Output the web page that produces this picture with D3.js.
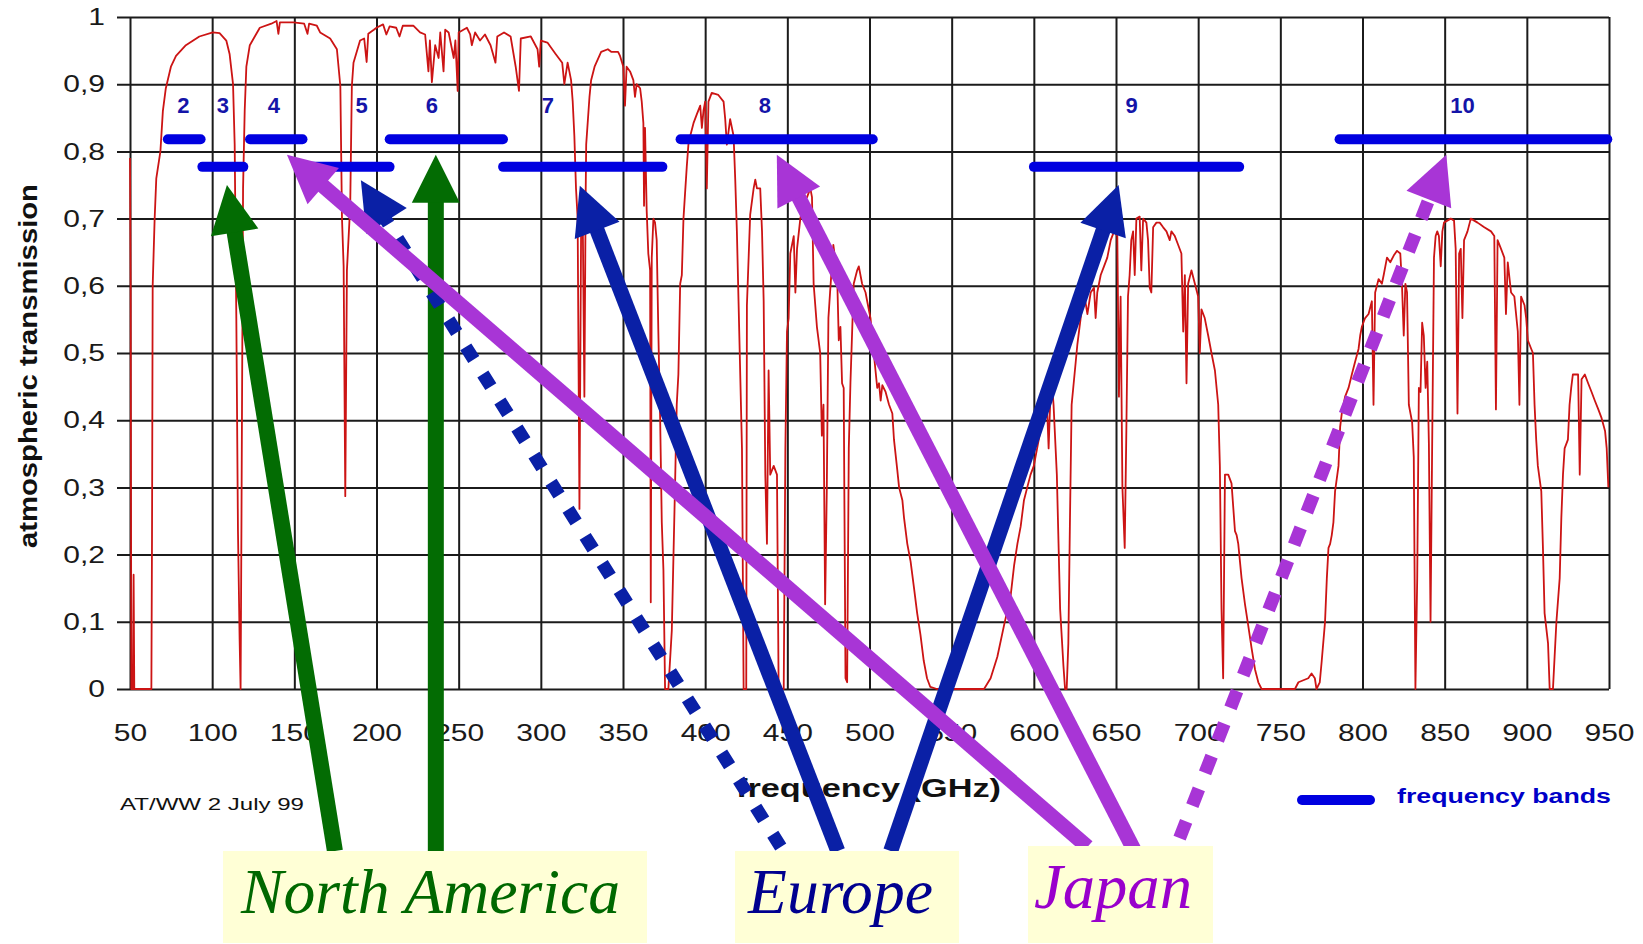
<!DOCTYPE html>
<html>
<head>
<meta charset="utf-8">
<script src="https://cdn.jsdelivr.net/npm/d3@7"></script>
<style>
  body { margin: 0; background: #fff; }
  svg { display: block; }
</style>
</head>
<body>
<div id="chart"></div>
<script>
// ---- data ----
// atmospheric transmission curve (frequency in GHz, transmission 0..1)
const freq = [
  50, 50.4, 50.8, 51.8, 52.2, 52.6, 63, 63.4, 63.8, 65, 66, 68.5, 70, 71.8, 74.9, 78, 84, 92.2, 100.4, 104.5,
  108.6, 110.6, 112.7, 113.7, 114.7, 115.7, 116.7, 117.3, 117.8, 118.8, 119.8, 120.8, 122.9, 129, 136, 139.2,
  140.3, 141.2, 149.4, 156, 158, 159, 163.7, 165.7, 171.8, 175.9, 178, 179, 180, 181, 182, 184, 185, 186, 190,
  192.5, 194, 195, 198.4,
  200, 204, 206, 208, 212, 214, 216, 222.4, 226.5, 229.6, 231.6, 232.5, 233.7, 235.7, 237.8, 238.8, 240.8,
  241.8, 243.9, 247, 248, 249.4, 250, 255, 257, 258, 260, 263, 266, 269.4, 272.4, 273.5, 277.6, 281.6, 284.7,
  286.7, 287.8, 293.9, 298, 299, 300, 304, 309, 313, 314.3, 316.3, 318.4, 319.4, 320.4, 321.4, 322.4, 323.5,
  324.5, 325.5, 326.5, 327.3, 327.6, 329.6, 330.6, 332.7, 336.7, 340.8, 343, 347,
  348.2, 350.2, 351.2, 352.2, 354.3, 356.3, 357.3, 358.3, 360.4, 361.4, 362.4, 362.8, 363.4, 364.4, 365.4,
  366.5, 366.9, 367.5, 368.5, 369.5, 370.5, 371.5, 372.6, 373.6, 374.6, 375.6, 377.6, 379.7, 380.7, 381.7,
  382.7, 383.7, 384.8, 385.8, 386.8, 387.8, 388.8, 389.8, 390.9, 392.9, 394.9, 397, 398, 399, 400, 401, 402,
  404, 408, 411.2, 412.2, 413.2, 415.2, 417.3, 418.3, 419.3, 420.3, 422.4, 423.4, 425, 425.4, 427.4, 429.5,
  430.5, 431.5, 433.5, 434.6, 435.6, 436.6, 437.6, 438.6, 439.6, 441.7, 443.7, 444.7, 447.8, 448.8, 449.8,
  450.8, 451.8, 453.9, 454.9, 455.9, 457.9, 460, 462, 464, 465, 466, 468, 470, 471, 472, 473, 474, 475, 476,
  478, 480.3, 481.3, 482.3, 483.3, 484.3, 485.4, 486.4, 487.4, 488.4, 490.4, 492.5, 493.5, 495.5, 497.6,
  498.6, 500.6, 502.6, 504.7,
  505.8, 506.8, 507.8, 509.8, 511.9, 513.9, 514.9, 516.9, 518, 520, 521, 523, 525, 527, 529, 531, 533, 535,
  537, 541, 569.7, 573.7, 577.8, 581.8, 585.9, 588, 590, 592, 594, 596, 598, 600, 602, 604, 606, 608, 609,
  610, 611, 612, 614, 616, 618, 619, 620, 621, 622, 623, 625.5, 626.5, 628.5, 630.5, 632.6, 634.6, 636.6,
  637.6, 638.6, 640.7, 642.7, 644.7, 646.8, 648.8, 650.8, 651.8, 652.8, 653.9,
  655.3, 656.3, 657.3, 658.3, 659.3, 660.4, 661.4, 662.4, 664.4, 665.4, 666.5, 668.5, 669.5, 670.5, 671.5,
  672.6, 674.6, 676.6, 678.7, 680.7, 682.7, 683.7, 685.8, 687.8, 689.8, 690.9, 691.9, 692.9, 693.9, 695.9,
  698, 700, 701, 702, 704, 706.1, 708.1, 710.2, 712.2, 713.2, 714.2, 715.2, 716.3, 718.3, 720.3, 722.4, 723.4,
  724.4, 726.4, 728.5, 730.5, 732.5, 734.6, 736.6, 738.6, 758.9, 761, 767, 769, 771, 772, 774, 775.2, 777.2,
  778.3, 779.3, 780.3, 781.3, 782.3, 783.3, 785.4, 786.4, 787.4, 789.4, 791.5, 793.5, 795.5, 797.6, 798.6,
  799.6, 801.6, 803.7, 805.7, 806.7, 807.7, 809.8, 811.8,
  812.9, 814.9, 816.9, 819, 821, 823, 824, 825.1, 826.1, 827.1, 828.2, 829.2, 830.2, 831.2, 832.2, 833.3,
  834.3, 835.3, 836.3, 837.3, 838.4, 839.4, 840.4, 841.4, 842.4, 843.5, 844.5, 845.5, 846.5, 847.6, 848.6,
  849.6, 851.6, 853.7, 855.7, 856.7, 857.8, 858.8, 859.8, 860.8, 861.8, 863.9, 865.9, 868, 870, 874.1, 878.2,
  880.2, 881.2, 882.2, 884.3, 886.3, 887.3, 888.4, 890.4, 892.4, 894.5, 895.5, 896.5, 898.6, 899.6, 900.6,
  902.7, 903.7, 904.7, 905.7, 906.7, 908.8, 909.8, 910.8, 912.9, 913.9, 915.9, 916.9, 918, 920, 921, 922, 923,
  925, 926, 927, 928, 930.2, 931.2, 932.2, 933.3, 935.3, 937.3, 939.4, 941.4, 943.5, 945.5, 947.6, 948.6, 949.6
];
const trans = [
  0.79, 0.60, 0, 0, 0.17, 0, 0, 0.23, 0.60, 0.70, 0.76, 0.80, 0.86, 0.894, 0.926, 0.942, 0.958, 0.971, 0.977, 0.976,
  0.965, 0.945, 0.90, 0.81, 0.552, 0.235, 0.074, 0, 0.235, 0.745, 0.861, 0.926, 0.958, 0.984, 0.99, 0.994,
  0.975, 0.992, 0.992, 0.99, 0.975, 0.99, 0.987, 0.977, 0.968, 0.952, 0.897, 0.70, 0.629, 0.287, 0.623, 0.719, 0.897, 0.932, 0.965,
  0.968, 0.933, 0.975, 0.981,
  0.984, 0.989, 0.974, 0.986, 0.984, 0.971, 0.987, 0.987, 0.977, 0.974, 0.919, 0.965, 0.903, 0.958, 0.939, 0.977, 0.919,
  0.981, 0.977, 0.939, 0.965, 0.89, 0.977, 0.984, 0.974, 0.958, 0.977, 0.965, 0.974, 0.958, 0.932, 0.971, 0.977, 0.971, 0.926,
  0.89, 0.968, 0.971, 0.952, 0.926, 0.965, 0.962, 0.945, 0.932, 0.90, 0.932, 0.906, 0.874, 0.823, 0.745, 0.70, 0.268,
  0.68, 0.70, 0.435, 0.74, 0.81, 0.881, 0.906, 0.926, 0.948, 0.952, 0.948, 0.948,
  0.942, 0.926, 0.868, 0.926, 0.919, 0.906, 0.881, 0.90, 0.894, 0.874, 0.842, 0.719, 0.835, 0.713, 0.648,
  0.623, 0.129, 0.642, 0.70, 0.694, 0.668, 0.532, 0.403, 0.248, 0.177, 0, 0, 0.087, 0.197, 0.306,
  0.423, 0.468, 0.603, 0.616, 0.70, 0.739, 0.777, 0.81, 0.823, 0.842, 0.855, 0.868, 0.835, 0.861, 0.874, 0.745, 0.874,
  0.887, 0.884, 0.874, 0.848, 0.81, 0.848, 0.823, 0.758, 0.681, 0.577, 0.358, 0, 0, 0.571, 0.706, 0.745,
  0.758, 0.745, 0.745, 0.681, 0.577, 0.319, 0.216, 0.474, 0.319, 0.332, 0.319, 0, 0, 0.358, 0.532,
  0.552, 0.648, 0.674, 0.59, 0.655, 0.70, 0.726, 0.732, 0.745, 0.732, 0.603, 0.539, 0.50, 0.377, 0.423, 0.126, 0.294, 0.552, 0.59,
  0.661, 0.616, 0.519, 0.539, 0.455, 0.448, 0.016, 0.01, 0.358, 0.455, 0.603, 0.623, 0.629, 0.603, 0.59,
  0.577, 0.552, 0.50, 0.448,
  0.455, 0.429, 0.452, 0.442, 0.423, 0.41, 0.371, 0.326, 0.30, 0.281, 0.255, 0.216, 0.19, 0.152, 0.113, 0.081, 0.042, 0.016,
  0.003, 0, 0, 0.016, 0.048, 0.094, 0.139, 0.184, 0.216, 0.242, 0.281, 0.30, 0.319, 0.332, 0.358, 0.384, 0.41, 0.423, 0.358,
  0.429, 0.455, 0.423, 0.319, 0.119, 0.035, 0, 0, 0.068, 0.255, 0.423, 0.487, 0.513, 0.552, 0.59, 0.558, 0.59, 0.597,
  0.552, 0.59, 0.616, 0.629, 0.642, 0.668, 0.681, 0.674, 0.435, 0.584, 0.30,
  0.21, 0.384, 0.584, 0.616, 0.668, 0.681, 0.616, 0.70, 0.703, 0.623, 0.70, 0.694, 0.668, 0.597, 0.59,
  0.687, 0.694, 0.694, 0.687, 0.681, 0.668, 0.681, 0.674, 0.661, 0.648, 0.532, 0.616, 0.455, 0.603, 0.623,
  0.603, 0.584, 0.50, 0.565, 0.552, 0.526, 0.50, 0.474, 0.423, 0.332, 0.119, 0.016, 0.319, 0.319, 0.306, 0.235, 0.229,
  0.216, 0.165, 0.126, 0.094, 0.061, 0.029, 0.01, 0, 0, 0.01, 0.016, 0.023, 0.016, 0, 0.01, 0.042, 0.10,
  0.165, 0.21, 0.216, 0.229, 0.248, 0.294, 0.332, 0.39, 0.41, 0.435, 0.448, 0.468, 0.487, 0.506, 0.526,
  0.539, 0.552, 0.558, 0.577, 0.423, 0.59, 0.61, 0.603,
  0.616, 0.642, 0.635, 0.645, 0.652, 0.648, 0.603, 0.526, 0.603, 0.59, 0.423, 0.41, 0.397, 0.345, 0, 0.165,
  0.448, 0.442, 0.545, 0.526, 0.448, 0.487, 0.365, 0.10, 0.365, 0.642, 0.674, 0.681, 0.674, 0.629, 0.681,
  0.694, 0.697, 0.70, 0.697, 0.655, 0.41, 0.648, 0.655, 0.552, 0.668, 0.681, 0.70, 0.697, 0.694, 0.687, 0.681,
  0.674, 0.416, 0.668, 0.655, 0.642, 0.558, 0.635, 0.59, 0.584, 0.532, 0.423, 0.584, 0.571, 0.552, 0.519,
  0.506, 0.50, 0.423, 0.371, 0.332, 0.294, 0.21, 0.113, 0.068, 0, 0, 0.048, 0.10, 0.165, 0.255, 0.319, 0.358,
  0.371, 0.423, 0.448, 0.468, 0.468, 0.468, 0.319, 0.461, 0.468, 0.455, 0.442, 0.429, 0.416, 0.403, 0.384, 0.358, 0.30
];

// axis ticks
const xTicks = [50, 100, 150, 200, 250, 300, 350, 400, 450, 500, 550, 600, 650, 700, 750, 800, 850, 900, 950];
const yTicks = [0, 0.1, 0.2, 0.3, 0.4, 0.5, 0.6, 0.7, 0.8, 0.9, 1];
const yTickLabels = ["0", "0,1", "0,2", "0,3", "0,4", "0,5", "0,6", "0,7", "0,8", "0,9", "1"];

// frequency bands
const bandNames = ["2", "3", "4", "5", "6", "7", "8", "9", "10"];
const bandStart = [70, 91, 120, 156, 205, 274, 382, 597, 783];
const bandEnd = [96, 122, 158, 211, 280, 377, 505, 728, 952];
const bandLevel = [0.818, 0.777, 0.818, 0.777, 0.818, 0.777, 0.818, 0.777, 0.818];
const bandLabelFreq = [82.5, 106.5, 137.5, 191, 233.7, 304.3, 436.3, 659.5, 860.8];
const bandLabelLevel = 0.868;

// regions and the bands they point to
const regionNames = ["North America", "Europe", "Japan"];
const arrowRegion = ["North America", "North America", "Europe", "Europe", "Europe", "Japan", "Japan", "Japan"];
const arrowBand = ["3", "6", "5", "7", "9", "4", "8", "10"];
const arrowTipFreq = [109, 236.1, 190.5, 323.7, 651.6, 145.5, 443.6, 851];
const arrowTipTrans = [0.75, 0.795, 0.757, 0.749, 0.75, 0.795, 0.795, 0.795];
const arrowTailFreq = [174.7, 236.1, 446, 480.7, 512.9, 632.7, 661.3, 688.7];
const arrowTailTrans = [-0.241, -0.241, -0.235, -0.241, -0.241, -0.235, -0.241, -0.222];
const arrowDotted = [false, false, true, false, false, false, false, true];

// ---- layout ----
const width = 1643, height = 944;
const plot = { left: 130, right: 1609, top: 17, bottom: 689 };

const regionColor = { "North America": "#036c03", "Europe": "#0a20a6", "Japan": "#a835d6" };
const regionTextColor = { "North America": "#006800", "Europe": "#00008f", "Japan": "#9900cc" };
const regionBox = {
  "North America": { x: 223, y: 851, w: 424, h: 92, tx: 241, ty: 913, tw: 379 },
  "Europe": { x: 735, y: 851, w: 224, h: 92, tx: 748, ty: 913, tw: 185 },
  "Japan": { x: 1028, y: 846, w: 185, h: 97, tx: 1034, ty: 908, tw: 158 }
};

const svg = d3.select("#chart")
  .append("svg")
  .attr("width", width)
  .attr("height", height);

svg.append("rect").attr("width", width).attr("height", height).attr("fill", "#fff");

const x = d3.scaleLinear().domain([50, 950]).range([plot.left, plot.right]);
const y = d3.scaleLinear().domain([0, 1]).range([plot.bottom, plot.top]);

const sans = "'Liberation Sans', Arial, Helvetica, sans-serif";

// horizontal grid + y labels
const yAxis = svg.append("g")
  .attr("transform", `translate(${plot.left - 13},0)`)
  .call(d3.axisLeft(y)
    .tickValues(yTicks)
    .tickFormat((d, i) => yTickLabels[i])
    .tickSize(-(plot.right - plot.left + 13))
    .tickPadding(0))
  .attr("font-size", 24)
  .attr("font-family", sans);
yAxis.select(".domain").remove();
yAxis.selectAll("line").attr("stroke", "#1b1b1b").attr("stroke-width", 2);
yAxis.selectAll("text")
  .attr("x", 0)
  .attr("fill", "#1a1a1a")
  .attr("transform", "translate(-12,0) scale(1.25,1)");

// vertical grid + x labels
const xAxis = svg.append("g")
  .attr("transform", `translate(0,${plot.bottom})`)
  .call(d3.axisBottom(x)
    .tickValues(xTicks)
    .tickFormat(d3.format("d"))
    .tickSize(-(plot.bottom - plot.top))
    .tickPadding(35))
  .attr("font-size", 24)
  .attr("font-family", sans);
xAxis.select(".domain").remove();
xAxis.selectAll("line").attr("stroke", "#1b1b1b").attr("stroke-width", 2);
xAxis.selectAll("text")
  .attr("fill", "#1a1a1a")
  .attr("transform", "scale(1.25,1)");

// transmission curve
const curve = freq.map((f, i) => [f, trans[i]]);
svg.append("path")
  .datum(curve)
  .attr("fill", "none")
  .attr("stroke", "#cc1414")
  .attr("stroke-width", 1.8)
  .attr("stroke-linejoin", "round")
  .attr("d", d3.line().x(d => x(d[0])).y(d => y(d[1])));

// frequency bands
const bands = bandNames.map((name, i) => ({
  name, start: bandStart[i], end: bandEnd[i], level: bandLevel[i], labelFreq: bandLabelFreq[i]
}));

svg.append("g").selectAll("line")
  .data(bands)
  .enter()
  .append("line")
  .attr("x1", d => x(d.start) + 5)
  .attr("x2", d => x(d.end) - 5)
  .attr("y1", d => y(d.level))
  .attr("y2", d => y(d.level))
  .attr("stroke", "#0000e0")
  .attr("stroke-width", 10)
  .attr("stroke-linecap", "round");

svg.append("g").selectAll("text")
  .data(bands)
  .enter()
  .append("text")
  .attr("x", d => x(d.labelFreq))
  .attr("y", y(bandLabelLevel))
  .attr("dy", "0.35em")
  .attr("text-anchor", "middle")
  .attr("font-family", sans)
  .attr("font-weight", "bold")
  .attr("font-size", 22)
  .attr("fill", "#1414a8")
  .text(d => d.name);

// axis titles and footnotes
svg.append("text")
  .attr("transform", "translate(37,366) rotate(-90)")
  .attr("text-anchor", "middle")
  .attr("font-family", sans)
  .attr("font-weight", "bold")
  .attr("font-size", 25)
  .attr("fill", "#111")
  .attr("textLength", 364)
  .attr("lengthAdjust", "spacingAndGlyphs")
  .text("atmospheric transmission");

svg.append("text")
  .attr("x", 736)
  .attr("y", 797)
  .attr("font-family", sans)
  .attr("font-weight", "bold")
  .attr("font-size", 26)
  .attr("fill", "#111")
  .attr("textLength", 265)
  .attr("lengthAdjust", "spacingAndGlyphs")
  .text("frequency (GHz)");

svg.append("text")
  .attr("x", 120)
  .attr("y", 810)
  .attr("font-family", sans)
  .attr("font-size", 17)
  .attr("fill", "#111")
  .attr("textLength", 184)
  .attr("lengthAdjust", "spacingAndGlyphs")
  .text("AT/WW 2 July 99");

// legend
svg.append("line")
  .attr("x1", 1302).attr("x2", 1370)
  .attr("y1", 800).attr("y2", 800)
  .attr("stroke", "#0000e0")
  .attr("stroke-width", 10)
  .attr("stroke-linecap", "round");
svg.append("text")
  .attr("x", 1397)
  .attr("y", 803)
  .attr("font-family", sans)
  .attr("font-weight", "bold")
  .attr("font-size", 21)
  .attr("fill", "#0000c8")
  .attr("textLength", 214)
  .attr("lengthAdjust", "spacingAndGlyphs")
  .text("frequency bands");

// arrows from the regions to the bands
const arrows = arrowRegion.map((r, i) => ({
  region: r, band: arrowBand[i],
  x1: x(arrowTailFreq[i]), y1: y(arrowTailTrans[i]),
  x2: x(arrowTipFreq[i]), y2: y(arrowTipTrans[i]),
  dotted: arrowDotted[i]
}));

const arrowLayer = svg.append("g");
arrows.forEach(a => {
  const color = regionColor[a.region];
  const dx = a.x2 - a.x1, dy = a.y2 - a.y1;
  const len = Math.hypot(dx, dy);
  const ux = dx / len, uy = dy / len;
  const headLen = 48, headHalf = 24;
  const bx = a.x2 - ux * headLen, by = a.y2 - uy * headLen;

  const shaft = arrowLayer.append("line")
    .attr("x1", a.x1).attr("y1", a.y1)
    .attr("x2", bx + ux * 2).attr("y2", by + uy * 2)
    .attr("stroke", color)
    .attr("stroke-width", a.region === "North America" ? 16 : 15);
  if (a.dotted) {
    shaft.attr("stroke-width", 13)
      .attr("stroke-dasharray", a.region === "Japan" ? "18,17" : "15,17");
  }

  arrowLayer.append("polygon")
    .attr("points", [
      [a.x2, a.y2],
      [bx - uy * headHalf, by + ux * headHalf],
      [bx + uy * headHalf, by - ux * headHalf]
    ].map(p => p.join(",")).join(" "))
    .attr("fill", color);
});

// region label boxes
const boxes = svg.append("g").selectAll("g")
  .data(regionNames)
  .enter()
  .append("g");

boxes.append("rect")
  .attr("x", d => regionBox[d].x)
  .attr("y", d => regionBox[d].y)
  .attr("width", d => regionBox[d].w)
  .attr("height", d => regionBox[d].h)
  .attr("fill", "#ffffd6");

boxes.append("text")
  .attr("x", d => regionBox[d].tx)
  .attr("y", d => regionBox[d].ty)
  .attr("font-family", "'Liberation Serif', 'Times New Roman', serif")
  .attr("font-style", "italic")
  .attr("font-size", 63)
  .attr("fill", d => regionTextColor[d])
  .attr("textLength", d => regionBox[d].tw)
  .attr("lengthAdjust", "spacingAndGlyphs")
  .text(d => d);
</script>
</body>
</html>
